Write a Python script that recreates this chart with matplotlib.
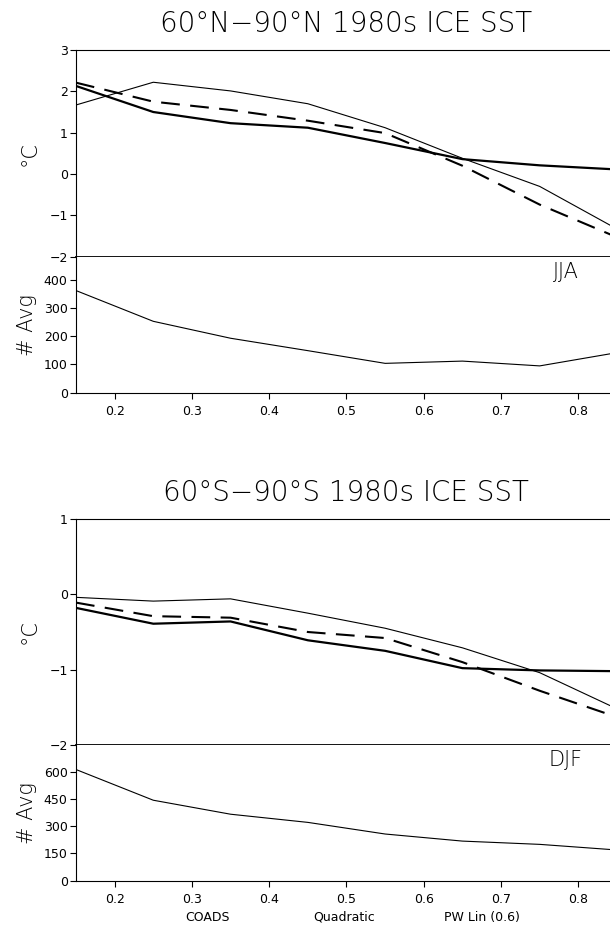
import numpy as np
import matplotlib.pyplot as plt

# x positions (bin centres) and series
x_vals = [0.15, 0.25, 0.35, 0.45, 0.55, 0.65, 0.75, 0.85]

nh_coads = [1.67, 2.22, 2.01, 1.70, 1.12, 0.38, -0.30, -1.33]
nh_quad = [2.21, 1.75, 1.55, 1.29, 0.99, 0.20, -0.74, -1.53]
nh_pwlin = [2.13, 1.50, 1.23, 1.12, 0.75, 0.36, 0.21, 0.11]
nh_count = [362, 253, 193, 149, 104, 112, 95, 142]

sh_coads = [-0.04, -0.09, -0.06, -0.25, -0.45, -0.71, -1.04, -1.52]
sh_quad = [-0.11, -0.29, -0.31, -0.50, -0.58, -0.90, -1.28, -1.63]
sh_pwlin = [-0.18, -0.39, -0.36, -0.61, -0.75, -0.98, -1.01, -1.02]
sh_count = [612, 443, 366, 321, 257, 218, 200, 169]

x_ticks = [0.2, 0.3, 0.4, 0.5, 0.6, 0.7, 0.8]
x_ticklabels = ["0.2", "0.3", "0.4", "0.5", "0.6", "0.7", "0.8"]

W, H = 610, 938
fig = plt.figure(figsize=(W / 100, H / 100), dpi=100)

LEFT = 76 / W
WIDTH = (617 - 76) / W


def fy(y):
    return 1 - y / H


def temp_panel(top, bottom, ylim, yticks, coads, quad, pwlin):
    ax = fig.add_axes([LEFT, fy(bottom), WIDTH, (bottom - top) / H])
    ax.plot(x_vals, coads, color="black", lw=0.8)
    ax.plot(x_vals, quad, color="black", lw=1.5, dashes=(9, 5))
    ax.plot(x_vals, pwlin, color="black", lw=1.6)
    ax.set_xlim(0.15, 0.85)
    ax.set_ylim(*ylim)
    ax.set_yticks(yticks)
    ax.set_xticks([])
    ax.spines["right"].set_visible(False)
    ax.spines["bottom"].set_linewidth(1.3)
    ax.tick_params(axis="y", direction="out", length=4, labelsize=9, pad=2)
    ax.set_ylabel("°C", fontsize=15, fontweight="light", color="black")
    ax.yaxis.set_label_coords(-0.068, 0.5)
    return ax


def count_panel(top, bottom, ylim, yticks, counts, season):
    ax = fig.add_axes([LEFT, fy(bottom), WIDTH, (bottom - top) / H])
    ax.plot(x_vals, counts, color="black", lw=0.8)
    ax.set_xlim(0.15, 0.85)
    ax.set_ylim(*ylim)
    ax.set_yticks(yticks)
    ax.set_xticks(x_ticks)
    ax.set_xticklabels(x_ticklabels)
    ax.spines["right"].set_visible(False)
    ax.spines["top"].set_visible(False)
    ax.tick_params(direction="out", length=4, labelsize=9, pad=2)
    ax.tick_params(axis="x", pad=5)
    ax.set_ylabel("# Avg", fontsize=15, fontweight="light", color="black")
    ax.yaxis.set_label_coords(-0.072, 0.5)
    ax.text((566 / W - LEFT) / WIDTH, 0.89, season, transform=ax.transAxes,
            ha="center", va="center", fontsize=15, fontweight="light")
    return ax


temp_panel(50, 256.7, (-2, 3), [-2, -1, 0, 1, 2, 3], nh_coads, nh_quad, nh_pwlin)
count_panel(256.7, 392.7, (0, 482), [0, 100, 200, 300, 400], nh_count, "JJA")
temp_panel(519, 745, (-2, 1), [-2, -1, 0, 1], sh_coads, sh_quad, sh_pwlin)
count_panel(745, 880.7, (0, 747), [0, 150, 300, 450, 600], sh_count, "DJF")

fig.text(346 / W, fy(24), "60°N\u221290°N 1980s ICE SST", ha="center", va="center",
         fontsize=20, fontweight="light")
fig.text(346 / W, fy(493), "60°S\u221290°S 1980s ICE SST", ha="center", va="center",
         fontsize=20, fontweight="light")

fig.text(208 / W, fy(917), "COADS", ha="center", va="center", fontsize=9)
fig.text(344 / W, fy(917), "Quadratic", ha="center", va="center", fontsize=9)
fig.text(482 / W, fy(917), "PW Lin (0.6)", ha="center", va="center", fontsize=9)

fig.savefig("out.png", dpi=100)
